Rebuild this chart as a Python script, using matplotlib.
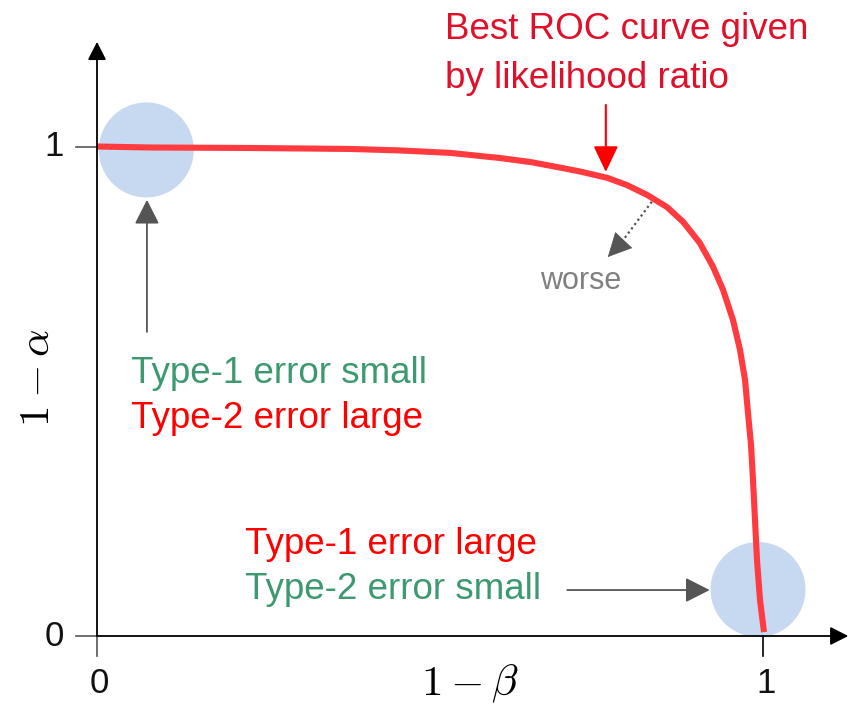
import matplotlib.pyplot as plt
from matplotlib.patches import Ellipse

plt.rcParams["font.family"] = "Liberation Sans"
plt.rcParams["mathtext.fontset"] = "cm"

# ROC curve (1 - beta, 1 - alpha)
roc_x = [0.0, 0.080, 0.230, 0.380, 0.455, 0.530, 0.605, 0.652, 0.695, 0.725,
         0.766, 0.796, 0.826, 0.856, 0.880, 0.905, 0.925, 0.940, 0.955, 0.9655,
         0.973, 0.9775, 0.982, 0.985, 0.988, 0.991, 0.9955, 1.0015]
roc_y = [1.001, 0.999, 0.998, 0.996, 0.993, 0.988, 0.9775, 0.969, 0.958, 0.950,
         0.937, 0.922, 0.902, 0.877, 0.847, 0.804, 0.755, 0.708, 0.646, 0.585,
         0.524, 0.456, 0.391, 0.319, 0.237, 0.155, 0.074, 0.008]

tick_values = [0, 1]
tick_labels = ["0", "1"]

RED = "#ff3b3f"
TXT_RED = "#e0102a"
GREEN = "#3d9970"
GRAY = "#555555"

fig = plt.figure(figsize=(8.58, 7.07), dpi=100)
ax = fig.add_axes([0, 0, 1, 1])
ax.set_xlim(-97 / 666, 761 / 666)
ax.set_ylim(-71 / 489, 636 / 489)
ax.axis("off")

# the two extreme regions
for cx, cy in [(0.074, 0.994), (0.9925, 0.095)]:
    ax.add_patch(Ellipse((cx, cy), 95 / 666, 95 / 489, color="#c7d9f0", lw=0, zorder=1))

ax.plot(roc_x, roc_y, color=RED, lw=4.4, solid_capstyle="butt",
        solid_joinstyle="round", zorder=3)

# axes with arrow heads
axis_arrow = dict(arrowstyle="-|>,head_length=0.55,head_width=0.28",
                  mutation_scale=20, color="black", lw=1.3, shrinkA=0, shrinkB=0)
ax.annotate("", xy=(0, 1.215), xytext=(0, 0), arrowprops=axis_arrow, zorder=4)
ax.annotate("", xy=(1.128, 0), xytext=(0, 0), arrowprops=axis_arrow, zorder=4)

# ticks
for v, lab in zip(tick_values, tick_labels):
    ax.plot([-0.031, 0], [v, v], color=GRAY, lw=1.2, zorder=2)
    ax.plot([v, v], [-0.04, 0], color=GRAY if v == 0 else "black", lw=1.2, zorder=2)
    ax.text(-0.05, v, lab, ha="right", va="center", fontsize=25, color="#111111")
    ax.text(v + 0.004, -0.097, lab, ha="center", va="center", fontsize=25, color="#111111")

ax.text(-0.089, 0.528, r"$1-\alpha$", rotation=90, ha="center", va="center", fontsize=31)
ax.text(0.56, -0.098, r"$1-\beta$", ha="center", va="center", fontsize=31)

# curve annotation
ax.text(0.522, 1.221, "Best ROC curve given", color=TXT_RED, fontsize=26.5, va="baseline")
ax.text(0.522, 1.121, "by likelihood ratio", color=TXT_RED, fontsize=26.5, va="baseline")
ax.annotate("", xy=(0.764, 0.949), xytext=(0.764, 1.086),
            arrowprops=dict(arrowstyle="-|>,head_length=0.8,head_width=0.38",
                            mutation_scale=20, color="red", lw=1.5,
                            shrinkA=0, shrinkB=0))

# worse direction: dotted shaft, solid head
ax.plot([0.833, 0.788], [0.888, 0.806], color=GRAY, lw=1.6, ls=(0, (1, 1.4)), zorder=4)
ax.annotate("", xy=(0.767, 0.775), xytext=(0.787, 0.804),
            arrowprops=dict(arrowstyle="-|>,head_length=0.8,head_width=0.4",
                            mutation_scale=20, color=GRAY, lw=0.5,
                            shrinkA=0, shrinkB=0))
ax.text(0.726, 0.71, "worse", color="#808080", fontsize=22, ha="center", va="baseline")

# top-left corner
ax.annotate("", xy=(0.075, 0.892), xytext=(0.075, 0.622),
            arrowprops=dict(arrowstyle="-|>,head_length=0.75,head_width=0.38",
                            mutation_scale=20, color=GRAY, lw=1.3,
                            shrinkA=0, shrinkB=0))
ax.text(0.051, 0.517, "Type-1 error small", color=GREEN, fontsize=26.5, va="baseline")
ax.text(0.051, 0.425, "Type-2 error large", color="red", fontsize=26.5, va="baseline")

# bottom-right corner
ax.text(0.222, 0.168, "Type-1 error large", color="red", fontsize=26.5, va="baseline")
ax.text(0.222, 0.076, "Type-2 error small", color=GREEN, fontsize=26.5, va="baseline")
ax.annotate("", xy=(0.920, 0.094), xytext=(0.706, 0.094),
            arrowprops=dict(arrowstyle="-|>,head_length=0.75,head_width=0.38",
                            mutation_scale=20, color=GRAY, lw=1.3,
                            shrinkA=0, shrinkB=0))

plt.savefig("out.png", dpi=100)
